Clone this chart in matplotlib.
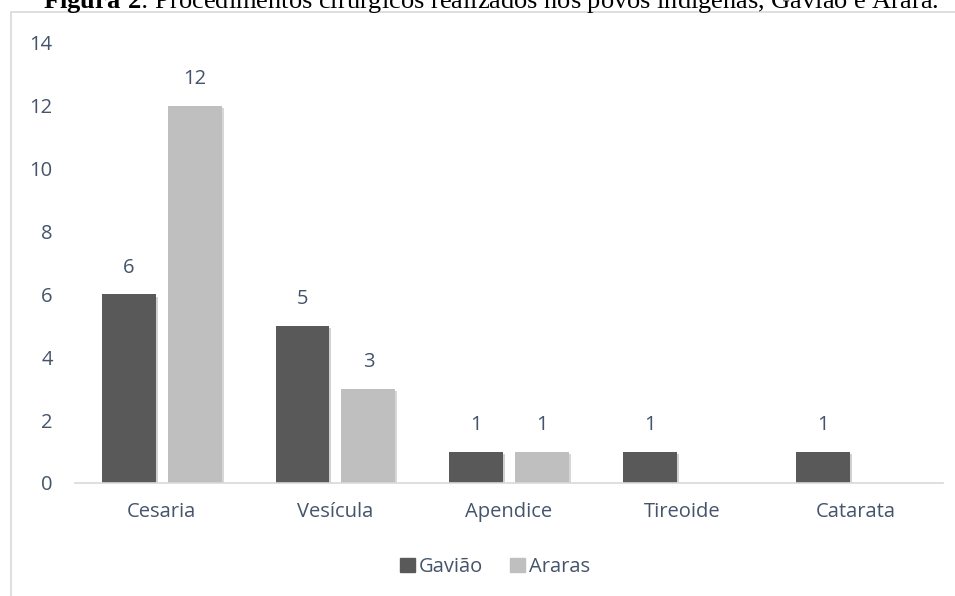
import matplotlib.pyplot as plt
from matplotlib.patches import Rectangle, Patch
import matplotlib.patheffects as pe
import numpy as np

categories = ["Cesaria", "Vesícula", "Apendice", "Tireoide", "Catarata"]
gaviao = [6, 5, 1, 1, 1]
araras = [12, 3, 1, 0, 0]

DARK = "#595959"
LIGHT = "#BFBFBF"
TEXT = "#44546A"
FONT = ["Open Sans", "DejaVu Sans"]
FS = 14.5

plt.rcParams["mathtext.fontset"] = "custom"
plt.rcParams["mathtext.bf"] = "Liberation Serif:bold"
plt.rcParams["mathtext.rm"] = "Liberation Serif"

fig = plt.figure(figsize=(9.55, 5.96), dpi=100)

# chart frame (cut off on the right/bottom like the source)
fig.patches.append(Rectangle((11 / 955, -0.1), 1.0, (596 - 12) / 596 + 0.1,
                             transform=fig.transFigure, fill=False,
                             edgecolor="#D9D9D9", linewidth=1.2))

fig.text(491 / 955, 1 - 8 / 596,
         r"$\bf{Figura\ 2}$: Procedimentos cirúrgicos realizados nos povos indígenas, Gavião e Arara.",
         ha="center", va="baseline", fontsize=19, family="Liberation Serif", color="black")

ax = fig.add_axes([75 / 955, 113 / 596, 868 / 955, 440 / 596])
x = np.arange(len(categories))
w = 0.31
off = 0.19
shadow = [pe.SimplePatchShadow(offset=(1.5, -1.5), alpha=0.2), pe.Normal()]
b1 = ax.bar(x - off, gaviao, w, color=DARK, path_effects=shadow)
b2 = ax.bar(x + off, araras, w, color=LIGHT, path_effects=shadow)

for bars, vals in ((b1, gaviao), (b2, araras)):
    for b, v in zip(bars, vals):
        if v == 0:
            continue
        ax.annotate(str(v), (b.get_x() + b.get_width() / 2, v), xytext=(0, 19),
                    textcoords="offset points", ha="center", va="center",
                    fontsize=FS, color=TEXT, family=FONT)

ax.set_xlim(-0.5, len(categories) - 0.5)
ax.set_ylim(0, 14)
ax.set_yticks(range(0, 15, 2))
ax.set_xticks(x)
ax.set_xticklabels(categories)
for s in ("top", "right", "left"):
    ax.spines[s].set_visible(False)
ax.spines["bottom"].set_color("#D9D9D9")
ax.spines["bottom"].set_linewidth(1.2)
ax.tick_params(axis="both", length=0, labelsize=FS, labelcolor=TEXT)
ax.tick_params(axis="y", pad=16)
ax.tick_params(axis="x", pad=14)
for lab in ax.get_xticklabels() + ax.get_yticklabels():
    lab.set_family(FONT)

handles = [Patch(color=DARK, label="Gavião"), Patch(color=LIGHT, label="Araras")]
leg = fig.legend(handles=handles, loc="center", bbox_to_anchor=(495 / 955, 29 / 596),
                 ncol=2, frameon=False, handlelength=0.75, handleheight=0.75,
                 handletextpad=0.2, columnspacing=1.3,
                 prop={"family": FONT, "size": FS})
for t in leg.get_texts():
    t.set_color(TEXT)

fig.savefig("out.png", dpi=100)
